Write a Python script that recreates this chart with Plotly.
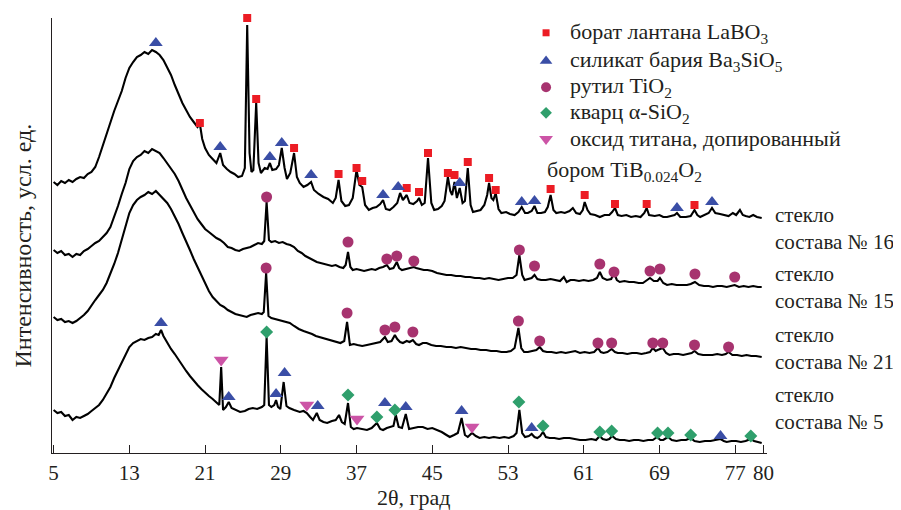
import plotly.graph_objects as go

# ---------------- data (2θ in degrees, intensity in arbitrary units, curves offset) ----------------
# glass No 16 (top curve)
x16 = [5.0, 5.4, 5.8, 6.2, 6.6, 7.0, 7.4, 7.8, 8.2, 8.6, 9.0, 9.4, 9.8, 10.2, 10.6, 11.0, 11.4, 11.8, 12.2, 12.6,
       13.0, 13.4, 13.8, 14.2, 14.6, 15.0, 15.4, 15.8, 16.2, 16.6, 17.0, 17.4, 17.8, 18.2, 18.6, 19.0, 19.4, 19.8,
       20.2, 20.45, 20.7, 21.0, 21.4, 21.8, 22.2, 22.6, 22.9, 23.3, 23.7, 24.1, 24.5, 24.9, 25.2, 25.45, 25.7, 25.9,
       26.1, 26.4, 26.65, 26.9, 27.3, 27.6, 27.85, 28.1, 28.5, 28.8, 29.1, 29.4, 29.65, 30.0, 30.4, 30.7, 31.0,
       31.4, 31.8, 32.2, 32.5, 33.0, 33.5, 34.0, 34.5, 34.8, 35.1, 35.4, 35.8, 36.2, 36.6, 37.0, 37.3, 37.6, 37.9,
       38.3, 38.7, 39.1, 39.5, 39.8, 40.1, 40.5, 40.9, 41.3, 41.6, 41.9, 42.3, 42.6, 43.0, 43.4, 43.6, 43.9, 44.2,
       44.55, 44.9, 45.2, 45.6, 46.0, 46.3, 46.65, 46.9, 47.1, 47.35, 47.6, 47.9, 48.2, 48.45, 48.75, 49.05, 49.3,
       49.7, 50.1, 50.5, 50.8, 51.0, 51.25, 51.45, 51.7, 52.0, 52.3, 52.8, 53.2, 53.7, 54.1, 54.45, 54.8, 55.1,
       55.5, 55.8, 56.1, 56.5, 56.9, 57.2, 57.5, 57.8, 58.1, 58.6, 59.0, 59.5, 59.85, 60.2, 60.6, 60.9, 61.1, 61.4,
       61.7, 62.2, 62.7, 63.2, 63.7, 64.0, 64.3, 64.6, 65.0, 65.5, 66.0, 66.5, 67.0, 67.4, 67.65, 67.9, 68.5, 69.0,
       69.4, 69.8, 70.3, 70.6, 70.85, 71.2, 71.8, 72.3, 72.7, 73.0, 73.3, 73.8, 74.2, 74.55, 74.9, 75.4, 75.9,
       76.3, 76.75, 77.1, 77.5, 77.8, 78.1, 78.5, 78.9, 79.3, 79.8]
y16 = [271, 268, 272, 270, 273, 271, 274, 276, 275, 279, 281, 286, 296, 308, 318, 330, 342, 352, 362, 375,
       385, 391, 396, 398, 401, 399, 403, 401, 398, 393, 386, 378, 368, 358, 350, 343, 336, 331,
       326, 329, 314, 305, 298, 294, 290, 300, 288, 284, 281, 279, 276, 277, 285, 428, 300, 281,
       283, 350, 290, 280, 285, 284, 290, 283, 284, 288, 305, 285, 274, 280, 300, 276, 270,
       266, 268, 271, 263, 259, 256, 254, 250, 255, 273, 252, 247, 248, 255, 283, 268, 266, 248,
       243, 245, 246, 249, 253, 244, 243, 246, 250, 260, 253, 258, 250, 249, 252, 255, 248, 250,
       295, 250, 243, 244, 247, 252, 276, 262, 258, 271, 255, 265, 250, 252, 285, 248, 241,
       242, 243, 248, 258, 270, 255, 253, 260, 244, 240, 241, 239, 238, 241, 246, 240, 240,
       242, 247, 240, 240, 241, 246, 258, 243, 240, 241, 240, 242, 245, 240, 239, 243, 251, 243,
       239, 238, 236, 238, 238, 241, 245, 238, 237, 238, 236, 237, 236, 240, 245, 238, 237, 238,
       236, 236, 237, 238, 240, 236, 236, 237, 243, 238, 236, 238, 240, 245, 240, 239, 238,
       237, 240, 238, 243, 238, 237, 236, 238, 236, 235]

# glass No 15
x15 = [5.0, 5.4, 5.8, 6.2, 6.6, 7.0, 7.4, 7.8, 8.2, 8.6, 9.0, 9.4, 9.8, 10.2, 10.6, 11.0, 11.4, 11.8, 12.2, 12.6,
       13.0, 13.4, 13.8, 14.2, 14.6, 15.0, 15.4, 15.8, 16.2, 16.6, 17.0, 17.4, 17.8, 18.2, 18.6, 19.0, 19.4, 19.8,
       20.2, 20.6, 21.0, 21.4, 21.8, 22.2, 22.6, 23.0, 23.4, 23.8, 24.2, 24.6, 25.0, 25.4, 25.8, 26.2, 26.6, 27.0,
       27.25, 27.5, 27.75, 28.0, 28.4, 28.8, 29.2, 29.6, 30.0, 30.4, 30.8, 31.2, 31.6, 32.0, 32.4, 32.8, 33.2,
       33.6, 34.0, 34.4, 34.8, 35.2, 35.6, 35.85, 36.1, 36.35, 36.6, 37.0, 37.4, 37.8, 38.2, 38.6, 39.0, 39.4,
       39.8, 40.2, 40.5, 40.9, 41.25, 41.5, 41.8, 42.2, 42.6, 43.05, 43.3, 43.7, 44.1, 44.5, 45.0, 45.5, 46.0,
       46.5, 47.0, 47.5, 48.0, 48.5, 49.0, 49.5, 50.0, 50.5, 51.0, 51.5, 52.0, 52.5, 53.0, 53.5, 53.9, 54.2,
       54.5, 54.75, 55.1, 55.5, 55.8, 56.1, 56.5, 57.0, 57.5, 58.0, 58.5, 58.9, 59.2, 59.6, 60.0, 60.5, 61.0,
       61.5, 62.0, 62.4, 62.7, 63.0, 63.45, 63.9, 64.2, 64.5, 64.8, 65.3, 65.8, 66.3, 66.8, 67.25, 67.6, 68.0,
       68.4, 68.8, 69.05, 69.4, 69.8, 70.3, 70.8, 71.3, 71.9, 72.3, 72.75, 73.2, 73.7, 74.2, 74.65, 75.1, 75.6,
       76.1, 76.6, 76.95, 77.4, 77.9, 78.4, 78.9, 79.4, 79.8]
y15 = [203, 200, 202, 198, 199, 196, 199, 198, 202, 204, 207, 210, 212, 216, 220, 226, 236, 247, 259, 270,
       284, 292, 296, 298, 302, 300, 304, 302, 300, 295, 290, 284, 279, 272, 263, 255, 248, 241,
       234, 229, 224, 221, 218, 215, 213, 210, 206, 205, 203, 202, 204, 205, 206, 208, 210, 209,
       212, 251, 213, 211, 212, 210, 211, 209, 208, 206, 202, 200, 197, 195, 193, 191, 190,
       189, 188, 187, 188, 186, 185, 188, 201, 186, 183, 184, 183, 182, 183, 184, 183, 185,
       186, 188, 184, 185, 191, 185, 183, 184, 185, 186, 185, 184, 183, 183, 182, 180, 179,
       178, 178, 177, 177, 176, 176, 175, 175, 174, 175, 174, 173, 174, 175, 175, 178, 198,
       178, 173, 174, 175, 178, 174, 173, 173, 174, 173, 172, 176, 171, 173, 173, 172, 173,
       172, 173, 175, 181, 175, 173, 174, 180, 173, 171, 172, 171, 171, 170, 170, 172, 175,
       172, 172, 175, 170, 168, 169, 168, 168, 168, 169, 171, 168, 167, 167, 166, 167, 167,
       166, 167, 168, 166, 167, 166, 167, 166, 166]

# glass No 21
x21 = [5.0, 5.4, 5.8, 6.2, 6.6, 7.0, 7.4, 7.8, 8.2, 8.6, 9.0, 9.4, 9.8, 10.2, 10.6, 11.0, 11.4, 11.8, 12.2, 12.6,
       13.0, 13.4, 13.8, 14.2, 14.6, 15.0, 15.4, 15.8, 16.2, 16.6, 17.0, 17.4, 17.8, 18.2, 18.6, 19.0, 19.4, 19.8,
       20.2, 20.6, 21.0, 21.4, 21.8, 22.2, 22.6, 23.0, 23.4, 23.8, 24.2, 24.6, 25.0, 25.4, 25.8, 26.2, 26.6, 27.0,
       27.2, 27.45, 27.7, 28.0, 28.4, 28.9, 29.4, 29.95, 30.4, 30.9, 31.4, 31.8, 32.3, 32.7, 33.1, 33.6, 34.1,
       34.5, 34.9, 35.3, 35.7, 36.0, 36.3, 36.7, 37.1, 37.6, 38.1, 38.6, 39.0, 39.5, 40.0, 40.3, 40.7, 41.05,
       41.3, 41.6, 41.9, 42.3, 42.6, 42.95, 43.3, 43.6, 44.0, 44.4, 44.9, 45.4, 45.9, 46.5, 47.0, 47.5, 48.0,
       48.6, 49.1, 49.6, 50.1, 50.7, 51.2, 51.8, 52.3, 52.85, 53.3, 53.7, 54.1, 54.4, 54.7, 55.1, 55.6, 56.0,
       56.35, 56.7, 57.1, 57.6, 58.1, 58.6, 59.1, 59.6, 60.1, 60.6, 61.1, 61.6, 62.1, 62.5, 62.8, 63.1, 63.5,
       63.95, 64.3, 64.6, 65.1, 65.6, 66.1, 66.6, 67.1, 67.6, 68.0, 68.3, 68.6, 68.8, 69.1, 69.35, 69.7, 70.05,
       70.5, 71.0, 71.5, 72.0, 72.4, 72.7, 73.1, 73.6, 74.1, 74.6, 75.1, 75.6, 76.0, 76.3, 76.7, 77.2, 77.7,
       78.2, 78.7, 79.2, 79.8]
y21 = [136, 133, 134, 131, 132, 130, 132, 135, 138, 142, 148, 153, 158, 163, 170, 179, 189, 200, 213, 226,
       240, 248, 253, 256, 258, 261, 259, 262, 258, 255, 250, 244, 237, 229, 220, 212, 203, 194,
       186, 177, 170, 162, 156, 152, 148, 146, 143, 141, 139, 138, 137, 136, 138, 139, 140, 139,
       141, 180, 137, 135, 134, 133, 131, 130, 127, 124, 122, 121, 119, 117, 116, 114, 113,
       112, 111, 110, 112, 131, 108, 109, 108, 107, 108, 109, 110, 111, 116, 111, 112, 118,
       114, 111, 110, 112, 111, 113, 109, 108, 110, 110, 108, 107, 107, 106, 106, 105, 106,
       105, 104, 104, 103, 103, 102, 102, 101, 101, 102, 105, 125, 105, 101, 101, 102, 103,
       106, 102, 101, 101, 100, 101, 100, 101, 102, 100, 101, 100, 101, 105, 101, 100, 101,
       104, 101, 100, 100, 99, 100, 100, 99, 100, 101, 105, 102, 103, 104, 105, 100, 98,
       99, 99, 98, 99, 100, 102, 99, 98, 98, 98, 99, 98, 99, 101, 98, 98, 97,
       98, 97, 97, 96]

# glass No 5 (bottom curve)
x5 = [5.0, 5.4, 5.8, 6.2, 6.6, 7.0, 7.4, 7.8, 8.2, 8.6, 9.0, 9.4, 9.8, 10.2, 10.6, 11.0, 11.4, 11.8, 12.2, 12.6,
      13.0, 13.4, 13.8, 14.2, 14.6, 15.0, 15.4, 15.8, 16.1, 16.35, 16.6, 17.0, 17.4, 17.8, 18.2, 18.6, 19.0, 19.4,
      19.8, 20.2, 20.6, 21.0, 21.4, 21.8, 22.2, 22.5, 22.7, 22.9, 23.2, 23.5, 23.8, 24.2, 24.7, 25.2, 25.6, 26.05,
      26.5, 27.0, 27.25, 27.5, 27.75, 28.0, 28.3, 28.5, 28.7, 28.95, 29.3, 29.6, 29.9, 30.4, 31.0, 31.4, 31.75,
      32.1, 32.4, 32.8, 33.1, 33.5, 33.9, 34.4, 34.8, 35.15, 35.45, 35.75, 36.1, 36.4, 36.7, 37.05, 37.5, 38.1,
      38.6, 39.15, 39.5, 39.8, 40.2, 40.6, 40.9, 41.15, 41.45, 41.8, 42.2, 42.55, 43.0, 43.5, 44.0, 44.5, 45.0,
      45.5, 46.0, 46.5, 46.85, 47.3, 47.7, 48.1, 48.45, 48.75, 49.2, 49.6, 50.0, 50.5, 51.0, 51.5, 52.1, 52.6,
      53.1, 53.6, 53.9, 54.2, 54.5, 54.8, 55.2, 55.5, 55.8, 56.1, 56.4, 56.7, 57.0, 57.4, 57.9, 58.4, 58.9,
      59.5, 60.0, 60.6, 61.2, 61.8, 62.3, 62.7, 63.0, 63.4, 63.7, 64.0, 64.4, 64.8, 65.3, 65.8, 66.3, 66.8,
      67.3, 67.8, 68.3, 68.75, 69.1, 69.4, 69.9, 70.3, 70.8, 71.3, 71.8, 72.3, 72.7, 73.25, 73.8, 74.4, 74.9,
      75.45, 75.8, 76.1, 76.6, 77.1, 77.6, 78.1, 78.65, 79.0, 79.4, 79.8]
y5 = [43, 40, 41, 37, 38, 33, 36, 35, 37, 39, 42, 45, 48, 53, 59, 66, 75, 83, 91, 99,
      106, 110, 112, 114, 113, 115, 116, 119, 118, 123, 117, 110, 104, 99, 93, 87, 82, 77,
      72, 68, 64, 60, 57, 54, 50, 48, 86, 43, 46, 51, 45, 43, 41, 42, 44, 45,
      44, 46, 48, 116, 48, 46, 48, 53, 46, 44, 71, 47, 45, 43, 41, 42, 40,
      36, 33, 40, 33, 31, 30, 32, 33, 38, 31, 29, 50, 26, 24, 25, 24, 23,
      25, 30, 24, 23, 25, 26, 27, 38, 26, 25, 39, 24, 25, 26, 26, 24, 25,
      23, 21, 18, 16, 18, 20, 35, 18, 16, 20, 17, 15, 16, 15, 16, 15, 16,
      15, 17, 20, 43, 20, 16, 17, 19, 16, 15, 17, 21, 16, 15, 15, 14, 15,
      15, 14, 13, 13, 14, 13, 17, 14, 13, 14, 17, 14, 13, 13, 12, 13, 13,
      12, 13, 13, 16, 13, 13, 16, 13, 12, 13, 13, 15, 12, 11, 12, 12, 13,
      14, 12, 11, 12, 12, 11, 12, 14, 12, 11, 10]

# phase markers (2θ, height)
labo3_x = [20.45, 25.45, 26.4, 30.4, 35.1, 37.0, 37.6, 42.3, 43.6, 44.55, 46.65, 47.35, 48.75, 51.0, 51.7,
           57.5, 61.1, 64.3, 67.65, 72.7]
labo3_y = [330, 435, 354, 305, 279, 285, 272, 265, 261, 300, 280, 278, 291, 275, 263, 264, 258, 249, 249, 248]

ba_x = [15.8, 22.6, 27.85, 29.1, 32.2, 39.8, 41.4, 47.9, 54.45, 55.8, 70.85, 74.55,
        16.35, 23.5, 28.5, 29.4, 32.9, 40.0, 42.2, 48.1, 55.5, 75.45]
ba_y = [410, 306, 296, 310, 278, 258, 266, 270, 251, 252, 245, 251,
        130, 56, 59, 80, 47, 50, 46, 42, 25, 17]

tio2_x = [27.5, 36.1, 40.2, 41.25, 43.05, 54.2, 55.8, 62.7, 64.2, 68.0, 69.05, 72.75, 76.95,
          27.45, 36.0, 40.0, 41.05, 42.95, 54.1, 56.35, 62.5, 63.95, 68.3, 69.35, 72.7, 76.3]
tio2_y = [256, 211, 194, 197, 192, 203, 187, 189, 181, 182, 184, 179, 176,
          185, 140, 123, 126, 121, 132, 112, 110, 110, 110, 110, 108, 106]

quartz_x = [27.5, 36.1, 39.15, 41.05, 54.15, 56.7, 62.7, 63.95, 68.8, 69.9, 72.3, 78.65]
quartz_y = [121, 58, 36, 43, 51, 27, 21, 22, 20, 20, 18, 17]

tib_x = [22.7, 31.75, 37.05, 49.2]
tib_y = [93, 48, 34, 26]

tick_vals = [5, 13, 21, 29, 37, 45, 53, 61, 69, 77, 80]
tick_text = ["5", "13", "21", "29", "37", "45", "53", "61", "69", "77", "80"]

curve_names = ["стекло<br>состава № 16", "стекло<br>состава № 15", "стекло<br>состава № 21", "стекло<br>состава № 5"]
legend_names = ["борат лантана LaBO<sub>3</sub>", "силикат бария Ba<sub>3</sub>SiO<sub>5</sub>",
                "рутил TiO<sub>2</sub>", "кварц α-SiO<sub>2</sub>", "оксид титана, допированный"]
legend_extra = "бором TiB<sub>0.024</sub>O<sub>2</sub>"

# ---------------- styles ----------------
FONT = "Liberation Serif, Times New Roman, serif"
TXT = "#231f20"
C_RED = "#ec1c24"
C_BLUE = "#3a4ea6"
C_PURP = "#a7336f"
C_GREEN = "#2f9f6c"
C_PINK = "#cc54a6"

styles = [
    (labo3_x, labo3_y, "square", 8, C_RED),
    (ba_x, ba_y, "triangle-up", 12, C_BLUE),
    (tio2_x, tio2_y, "circle", 11, C_PURP),
    (quartz_x, quartz_y, "diamond", 10, C_GREEN),
    (tib_x, tib_y, "triangle-down", 13, C_PINK),
]

fig = go.Figure()

for xs, ys in [(x16, y16), (x15, y15), (x21, y21), (x5, y5)]:
    fig.add_trace(go.Scatter(x=xs, y=ys, mode="lines", line=dict(color="black", width=2.1),
                             showlegend=False, hoverinfo="skip"))

for xs, ys, sym, sz, col in styles:
    fig.add_trace(go.Scatter(x=xs, y=ys, mode="markers",
                             marker=dict(symbol=sym, size=sz, color=col, line=dict(width=0)),
                             showlegend=False, cliponaxis=False, hoverinfo="skip"))

# legend (in plot-fraction coordinates on an overlay axis)
leg_y = [0.966, 0.901, 0.841, 0.782, 0.722]
for (xs, ys, sym, sz, col), ly, name in zip(styles, leg_y, legend_names):
    fig.add_trace(go.Scatter(x=[0.691], y=[ly], xaxis="x2", yaxis="y2", mode="markers",
                             marker=dict(symbol=sym, size=sz - 1, color=col, line=dict(width=0)),
                             showlegend=False, cliponaxis=False, hoverinfo="skip"))
    fig.add_annotation(x=0.721, y=ly, xref="paper", yref="paper", text=name, showarrow=False,
                       xanchor="left", yanchor="middle", font=dict(family=FONT, size=22, color=TXT))
fig.add_annotation(x=0.690, y=0.648, xref="paper", yref="paper", text=legend_extra, showarrow=False,
                   xanchor="left", yanchor="middle", font=dict(family=FONT, size=22, color=TXT))

# curve labels
label_y = [(0.547 + 0.485) / 2, (0.411 + 0.350) / 2, (0.271 + 0.209) / 2, (0.133 + 0.071) / 2]
for ly, name in zip(label_y, curve_names):
    fig.add_annotation(x=1.008, y=ly, xref="paper", yref="paper", text=name, showarrow=False,
                       xanchor="left", yanchor="middle", align="left",
                       font=dict(family=FONT, size=21, color=TXT))

# axis titles
fig.add_annotation(x=0.506, y=-0.103, xref="paper", yref="paper", text="2θ, град", showarrow=False,
                   xanchor="center", yanchor="middle", font=dict(family=FONT, size=22, color=TXT))
fig.add_annotation(x=-0.040, y=0.478, xref="paper", yref="paper", text="Интенсивность, усл. ед.",
                   showarrow=False, textangle=-90, xanchor="center", yanchor="middle",
                   font=dict(family=FONT, size=24, color=TXT))

# the page body adds an 8 px offset, so margins are reduced by 8 px on the left and top
fig.update_layout(
    width=901, height=510,
    margin=dict(l=44, r=142, t=10, b=65),
    paper_bgcolor="white", plot_bgcolor="white",
    xaxis=dict(range=[4.83, 80.36], showgrid=False, zeroline=False, showline=True, linecolor=TXT,
               linewidth=1.2, ticks="inside", ticklen=8, tickcolor=TXT, tickwidth=1,
               tickvals=tick_vals, ticktext=tick_text, ticklabelstandoff=1,
               tickfont=dict(family=FONT, size=21, color=TXT)),
    yaxis=dict(range=[0, 435], showgrid=False, zeroline=False, showline=True, linecolor=TXT,
               linewidth=1.2, ticks="", showticklabels=False),
    xaxis2=dict(range=[0, 1], overlaying="x", visible=False),
    yaxis2=dict(range=[0, 1], overlaying="y", visible=False),
)

fig.write_html("out.html")
